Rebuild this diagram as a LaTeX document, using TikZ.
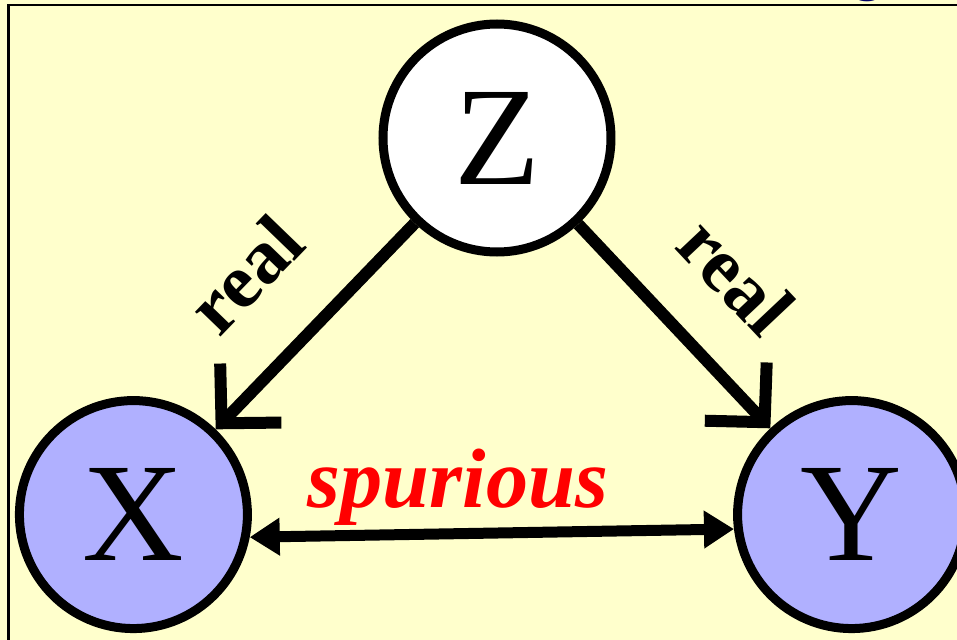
\documentclass[tikz,border=0pt]{standalone}
\usepackage{fontspec}
\setmainfont{Liberation Serif}
\newfontfamily\titlefont{Liberation Sans}
\usepackage{xcolor}
\definecolor{Pale Cream}{HTML}{FFFFCC}
\definecolor{Periwinkle}{HTML}{B0B0FF}
\definecolor{Deep Navy}{HTML}{000066}
\colorlet{cYellow}{Pale Cream}
\colorlet{cBlue}{Periwinkle}
\colorlet{cRed}{red}
\usetikzlibrary{arrows.meta, positioning}
\tikzset{
	font = \fontsize{40}{48}\selectfont,
	varnode/.style={
		draw,
		circle,
		line width=.9mm,
		minimum size=2.28cm,
		inner sep=0pt
	},
	cause/.style={
		-{Straight Barb[length=4.2mm, width=8.5mm]},
		line width=1.2mm
	},
	confound/.style={
		{Triangle[length=3mm, width=3.6mm]}-{Triangle[length=3mm, width=3.6mm]},
		line width=1.1mm
	},
	arrowlabel/.style={
		font=\bfseries\fontsize{22}{26}\selectfont
	}
}
\colorlet{observed}{cBlue}
\colorlet{spurious}{cRed}

\begin{document}
\begin{tikzpicture}
	\fill[cYellow] (0,0) rectangle (9.57,6.40);
	\useasboundingbox (0,0) rectangle (9.57,6.40);
	\draw[line width=.25mm] (.087,-.5) -- (.087,6.35) -- (10,6.35);
	\node[Deep Navy, anchor=base, font=\titlefont\fontsize{21}{25}\selectfont] (title) at (8.68,6.54) {g};

	\node[varnode, fill=white] (Z) at (4.97,5.02) {Z};
	\node[varnode, fill=observed] (X) [below left=2.09cm and 1.96cm of Z] {X};
	\node[varnode, fill=observed] (Y) [below right=2.09cm and 1.87cm of Z] {Y};

	\path (Z) edge[cause] node[pos=.54, sloped, above=4.2mm, arrowlabel] {real} (X)
		(Z) edge[cause] node[pos=.52, sloped, above=3.5mm, arrowlabel] {real} (Y);
	\draw[confound] (X.-11) -- node[pos=.43, above=.3mm, inner sep=0pt, spurious, font=\bfseries\itshape\fontsize{24}{28}\selectfont] {spurious} (Y.187);
\end{tikzpicture}
\end{document}
